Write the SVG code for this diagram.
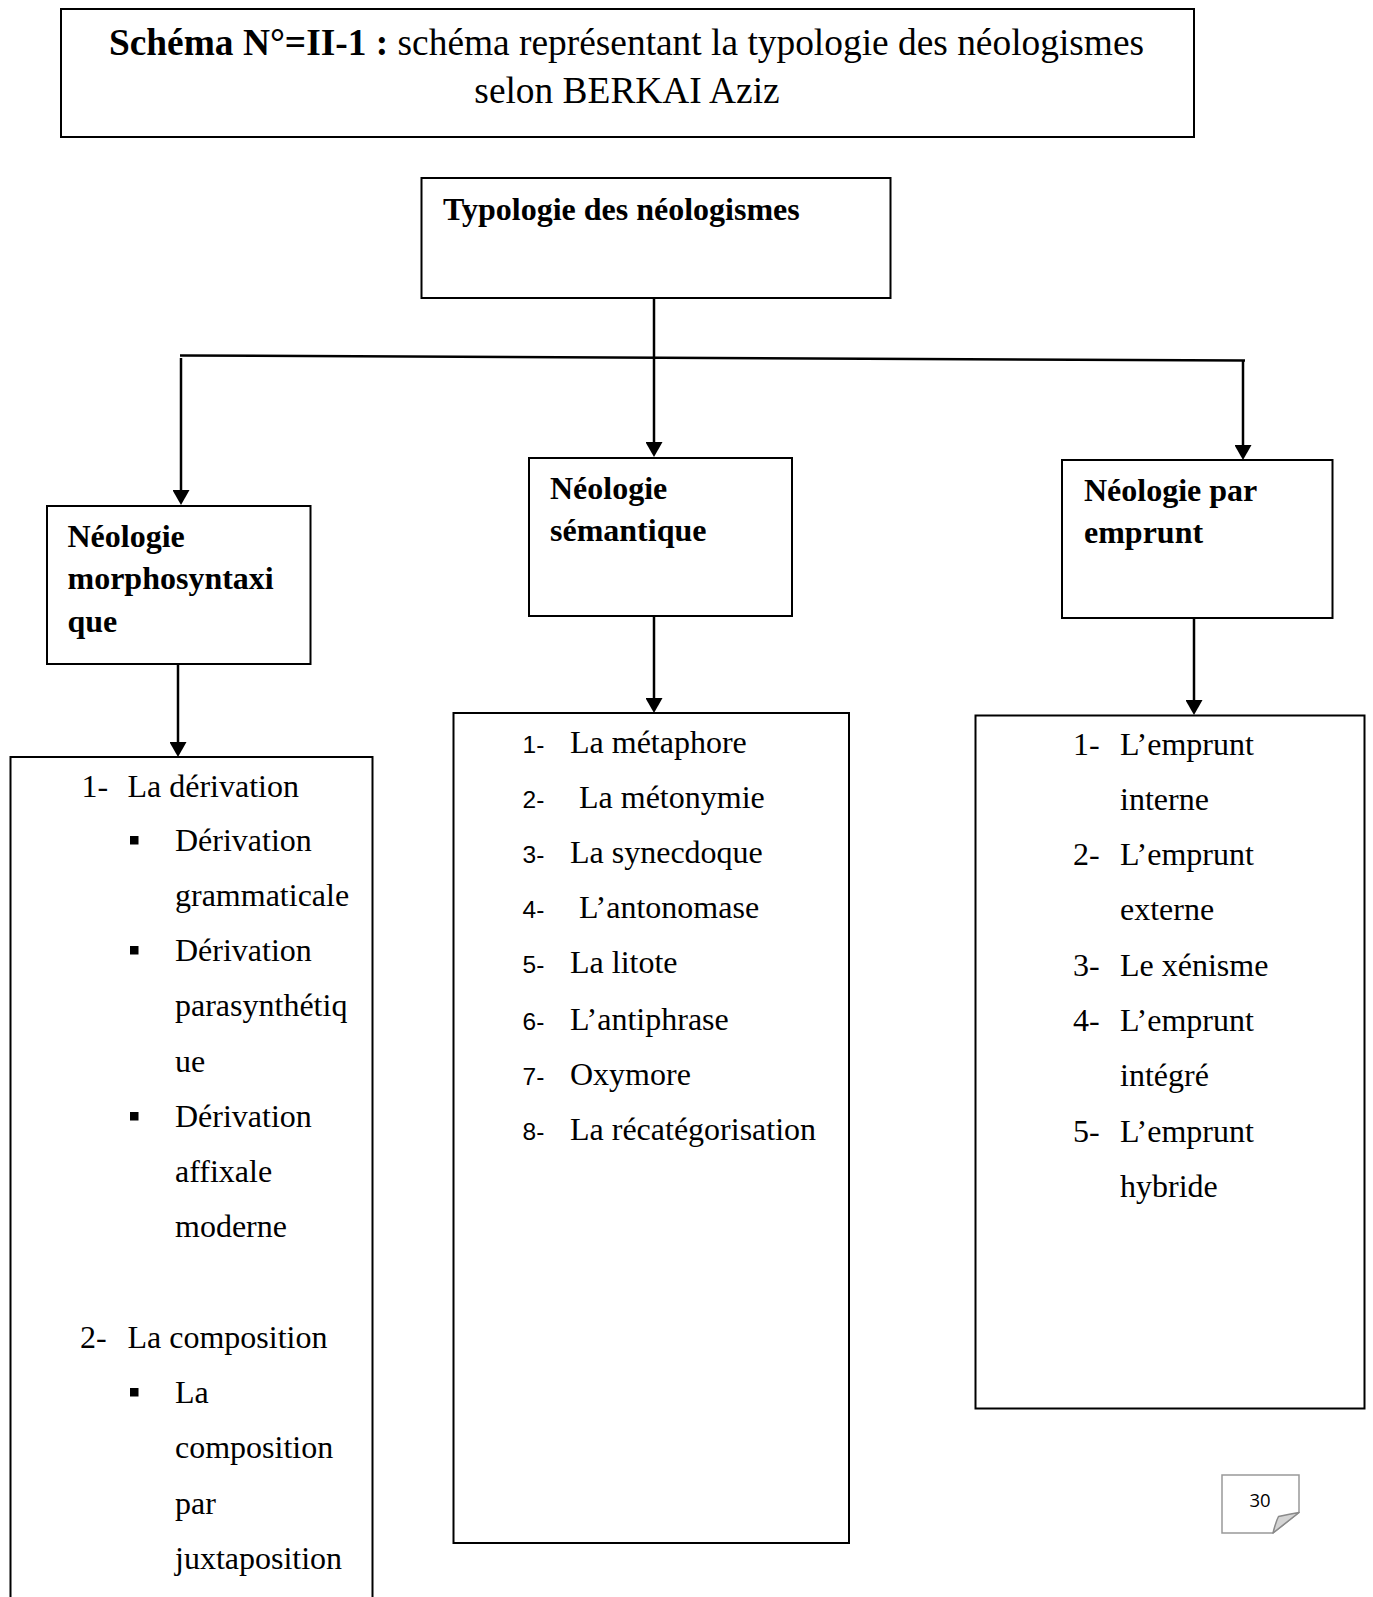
<svg xmlns="http://www.w3.org/2000/svg" width="1373" height="1597" viewBox="0 0 1373 1597">
<style>
.box{fill:#fff;stroke:#000;stroke-width:2}
.t{font-family:"Liberation Serif","Times New Roman",serif;fill:#000}
.b{font-weight:bold;font-size:32px}
.r{font-size:32px}
.n{font-family:"Liberation Sans",Arial,sans-serif;font-size:24.5px;fill:#000}
.c{fill:none;stroke:#000;stroke-width:2.5}
</style>
<defs>
<marker id="arr" markerUnits="userSpaceOnUse" markerWidth="17" markerHeight="17" refX="7" refY="8.5" orient="auto">
<path d="M0,0 L15,8.5 L0,17 z" fill="#000"/>
</marker>
</defs>
<rect width="1373" height="1597" fill="#fff"/>

<g id="title">
<rect class="box" x="61" y="9" width="1133" height="128"/>
<text class="t" x="626.5" y="55" text-anchor="middle" font-size="37.4"><tspan font-weight="bold">Schéma N°=II-1 :</tspan> schéma représentant la typologie des néologismes</text>
<text class="t" x="627" y="103" text-anchor="middle" font-size="37.4">selon BERKAI Aziz</text>
</g>

<g id="connectors">
<line class="c" x1="654" y1="298" x2="654" y2="449" marker-end="url(#arr)"/>
<line class="c" x1="180" y1="355.5" x2="1245" y2="360.5"/>
<line class="c" x1="181" y1="358" x2="181" y2="497" marker-end="url(#arr)"/>
<line class="c" x1="1243" y1="360.5" x2="1243" y2="452" marker-end="url(#arr)"/>
<line class="c" x1="178" y1="659" x2="178" y2="749" marker-end="url(#arr)"/>
<line class="c" x1="654" y1="616" x2="654" y2="705" marker-end="url(#arr)"/>
<line class="c" x1="1194" y1="618" x2="1194" y2="707" marker-end="url(#arr)"/>
</g>

<g id="node-typologie">
<rect class="box" x="421.5" y="178" width="469" height="120"/>
<text class="t b" x="443" y="220">Typologie des néologismes</text>
</g>

<g id="node-morpho">
<rect class="box" x="47" y="506" width="263.5" height="158"/>
<text class="t b" x="67.5" y="546.5">Néologie</text>
<text class="t b" x="67.5" y="589">morphosyntaxi</text>
<text class="t b" x="67.5" y="631.5">que</text>
</g>

<g id="node-semantique">
<rect class="box" x="529" y="458" width="263" height="158"/>
<text class="t b" x="550" y="499">Néologie</text>
<text class="t b" x="550" y="541">sémantique</text>
</g>

<g id="node-emprunt">
<rect class="box" x="1062" y="460" width="270.5" height="158"/>
<text class="t b" x="1084" y="501">Néologie par</text>
<text class="t b" x="1084" y="543">emprunt</text>
</g>

<g id="list-morpho">
<path class="box" d="M10.5,1600 V757 H372.5 V1600"/>
<text class="t r" x="81.5" y="796.5">1-</text>
<text class="t r" x="127.5" y="796.5">La dérivation</text>
<rect x="130" y="836" width="8.5" height="8.5" fill="#000"/>
<text class="t r" x="175" y="851">Dérivation</text>
<text class="t r" x="175" y="905.5">grammaticale</text>
<rect x="130" y="946" width="8.5" height="8.5" fill="#000"/>
<text class="t r" x="175" y="961">Dérivation</text>
<text class="t r" x="175" y="1016">parasynthétiq</text>
<text class="t r" x="175" y="1071.5">ue</text>
<rect x="130" y="1112" width="8.5" height="8.5" fill="#000"/>
<text class="t r" x="175" y="1127">Dérivation</text>
<text class="t r" x="175" y="1182">affixale</text>
<text class="t r" x="175" y="1236.5">moderne</text>
<text class="t r" x="80" y="1348">2-</text>
<text class="t r" x="127.5" y="1348">La composition</text>
<rect x="130" y="1388" width="8.5" height="8.5" fill="#000"/>
<text class="t r" x="175" y="1403">La</text>
<text class="t r" x="175" y="1458">composition</text>
<text class="t r" x="175" y="1513.5">par</text>
<text class="t r" x="175" y="1568.5">juxtaposition</text>
</g>

<g id="list-semantique">
<rect class="box" x="453.5" y="713" width="395.5" height="830" stroke-width="2.5"/>
<text class="n" x="522.5" y="752.5">1-</text><text class="t r" x="570" y="752.5">La métaphore</text>
<text class="n" x="522.5" y="808">2-</text><text class="t r" x="579" y="808">La métonymie</text>
<text class="n" x="522.5" y="863">3-</text><text class="t r" x="570" y="863">La synecdoque</text>
<text class="n" x="522.5" y="918">4-</text><text class="t r" x="579" y="918">L’antonomase</text>
<text class="n" x="522.5" y="973">5-</text><text class="t r" x="570" y="973">La litote</text>
<text class="n" x="522.5" y="1029.5">6-</text><text class="t r" x="570" y="1029.5">L’antiphrase</text>
<text class="n" x="522.5" y="1084.5">7-</text><text class="t r" x="570" y="1084.5">Oxymore</text>
<text class="n" x="522.5" y="1140">8-</text><text class="t r" x="570" y="1140">La récatégorisation</text>
</g>

<g id="list-emprunt">
<rect class="box" x="975.5" y="715.5" width="389" height="693" stroke-width="2.5"/>
<text class="t r" x="1073" y="755">1-</text><text class="t r" x="1120" y="755">L’emprunt</text>
<text class="t r" x="1120" y="810">interne</text>
<text class="t r" x="1073" y="865">2-</text><text class="t r" x="1120" y="865">L’emprunt</text>
<text class="t r" x="1120" y="920">externe</text>
<text class="t r" x="1073" y="975.5">3-</text><text class="t r" x="1120" y="975.5">Le xénisme</text>
<text class="t r" x="1073" y="1031">4-</text><text class="t r" x="1120" y="1031">L’emprunt</text>
<text class="t r" x="1120" y="1086">intégré</text>
<text class="t r" x="1073" y="1141.5">5-</text><text class="t r" x="1120" y="1141.5">L’emprunt</text>
<text class="t r" x="1120" y="1196.5">hybride</text>
</g>

<g id="page-number">
<path d="M1222,1475 H1299 V1512.5 L1273,1533 H1222 Z" fill="#fff" stroke="#999" stroke-width="1.5"/>
<path d="M1273,1533 Q1276,1521 1278.5,1516.5 Q1290,1514 1299,1512.5 Z" fill="#d4d4d4" stroke="#8a8a8a" stroke-width="1.5" stroke-linejoin="round"/>
<text x="1260" y="1506.5" text-anchor="middle" font-family="'Open Sans','Liberation Sans',sans-serif" font-size="18.5" fill="#000">30</text>
</g>
</svg>
